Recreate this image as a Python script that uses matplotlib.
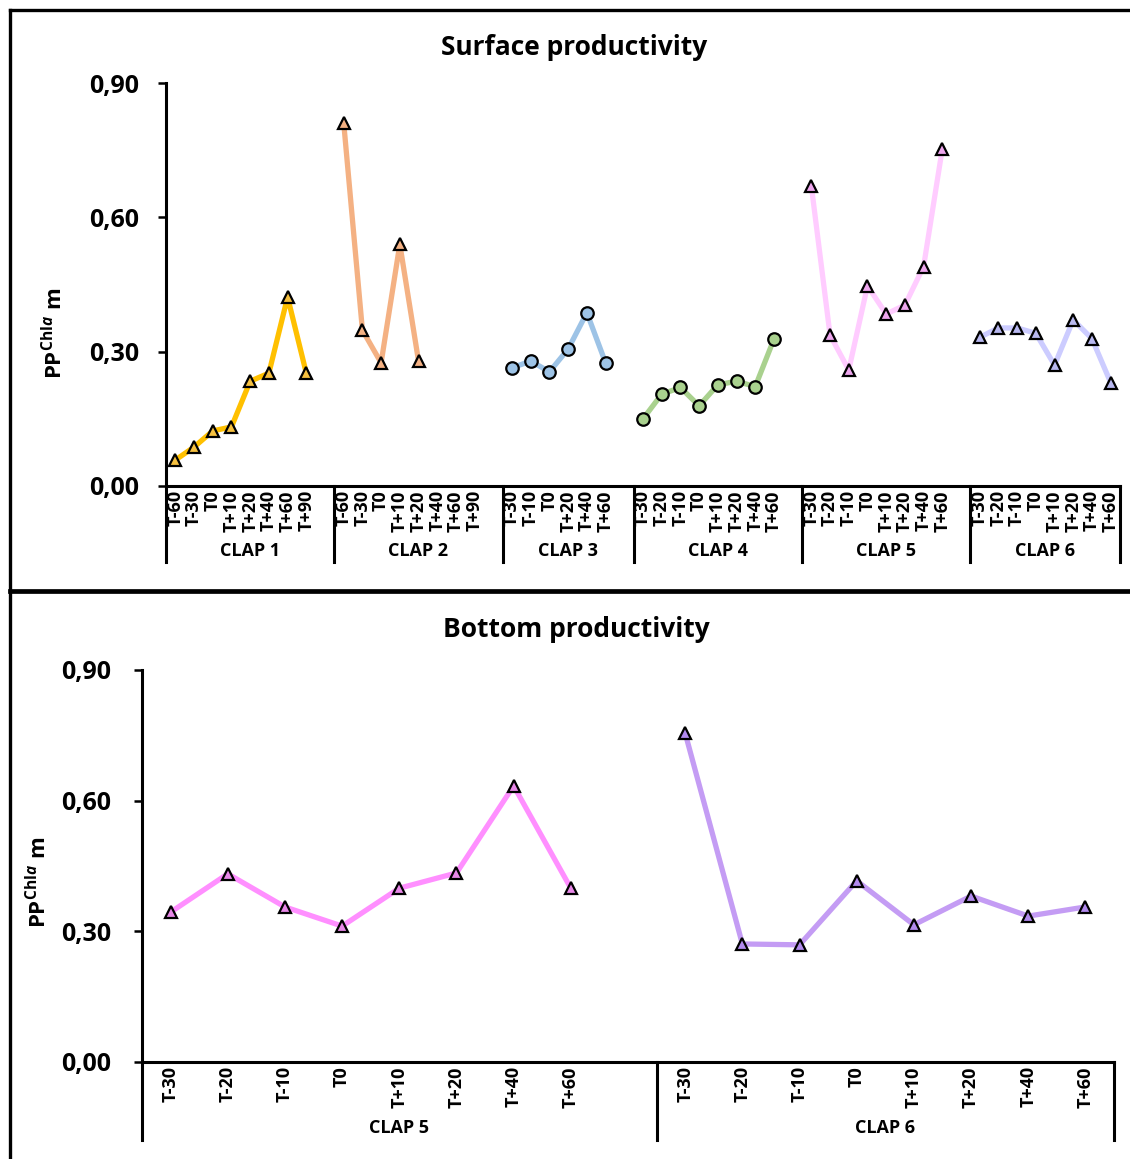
#-*- coding: utf-8 -*-
import matplotlib.pyplot as plt
import numpy as np
from matplotlib.lines import Line2D

plt.rcParams['font.family'] = ['Open Sans', 'DejaVu Sans']
plt.rcParams['mathtext.fontset'] = 'custom'
plt.rcParams['mathtext.rm'] = 'Open Sans:bold'
plt.rcParams['mathtext.it'] = 'Open Sans:italic:bold'
plt.rcParams['mathtext.bf'] = 'Open Sans:bold'

W = 1130
H = 1159

# surface data
groups_top = ['CLAP 1', 'CLAP 2', 'CLAP 3', 'CLAP 4', 'CLAP 5', 'CLAP 6']
lab_a = ['T-60', 'T-30', 'T0', 'T+10', 'T+20', 'T+40', 'T+60', 'T+90']
lab_b = ['T-30', 'T-10', 'T0', 'T+20', 'T+40', 'T+60']
lab_c = ['T-30', 'T-20', 'T-10', 'T0', 'T+10', 'T+20', 'T+40', 'T+60']
labels_top = [lab_a, lab_a, lab_b, lab_c, lab_c, lab_c]

clap1_s = [0.058, 0.087, 0.123, 0.132, 0.234, 0.252, 0.422, 0.252]
clap2_s = [0.811, 0.348, 0.275, 0.540, 0.279, np.nan, np.nan, np.nan]
clap3_s = [0.264, 0.279, 0.255, 0.306, 0.387, 0.275]
clap4_s = [0.150, 0.205, 0.220, 0.179, 0.226, 0.234, 0.222, 0.328]
clap5_s = [0.670, 0.337, 0.259, 0.447, 0.384, 0.404, 0.490, 0.753]
clap6_s = [0.332, 0.353, 0.353, 0.341, 0.270, 0.371, 0.329, 0.231]
values_top = [clap1_s, clap2_s, clap3_s, clap4_s, clap5_s, clap6_s]

line_top = ['#FFC000', '#F4B183', '#9DC3E6', '#A9D18E', '#FFCCFF', '#CCCCFF']
mark_top = ['#F5C040', '#F4B183', '#9DC3E6', '#A9D18E', '#EEA6EE', '#B8B8F0']
shape_top = ['^', '^', 'o', 'o', '^', '^']

# bottom data
groups_bot = ['CLAP 5', 'CLAP 6']
labels_bot = [lab_c, lab_c]
clap5_b = [0.344, 0.432, 0.356, 0.312, 0.399, 0.434, 0.634, 0.399]
clap6_b = [0.755, 0.271, 0.269, 0.416, 0.315, 0.381, 0.335, 0.356]
values_bot = [clap5_b, clap6_b]
line_bot = ['#FF8FFF', '#C49CF4']
mark_bot = ['#E888E8', '#B28AEE']


def fig_rect(l, t, r, b):
    return [l / W, 1 - b / H, (r - l) / W, (b - t) / H]


def draw_panel(ax, groups, labels, values, lcol, mcol, shapes, title, tpos,
               div_y, grp_y, ylab_xy, ylpad):
    ticks = []
    ticklabels = []
    bounds = [-0.5]
    start = 0
    for g in range(len(groups)):
        n = len(labels[g])
        x = np.arange(start, start + n)
        ax.plot(x, values[g], color=lcol[g], lw=3.8, solid_capstyle='round',
                zorder=2)
        ax.plot(x, values[g], ls='none', marker=shapes[g],
                ms=9 if shapes[g] == 'o' else 8.5, mfc=mcol[g], mec='k',
                mew=1.6, zorder=3)
        ticks += list(x)
        ticklabels += labels[g]
        # one empty slot after each group except the last
        if g < len(groups) - 1:
            start += n + 1
        else:
            start += n
        bounds.append(start - 0.5)
    ax.set_xlim(-0.5, start - 0.5)
    ax.set_ylim(0, 0.9)
    ax.set_yticks([0, 0.3, 0.6, 0.9])
    ax.set_yticklabels(['0,00', '0,30', '0,60', '0,90'])
    ax.set_xticks(ticks)
    ax.set_xticklabels(ticklabels, rotation=90, fontsize=13,
                       fontweight='bold')
    ax.tick_params(axis='x', length=0, pad=3)
    ax.tick_params(axis='y', length=6, width=1.8, direction='out',
                   labelsize=18, pad=ylpad)
    for lab in ax.get_yticklabels():
        lab.set_fontweight('bold')
    for s in ['top', 'right']:
        ax.spines[s].set_visible(False)
    for s in ['left', 'bottom']:
        ax.spines[s].set_linewidth(2.2)
    trans = ax.get_xaxis_transform()
    for b in bounds:
        ax.plot([b, b], [0, div_y], color='k', lw=2.2, transform=trans,
                clip_on=False)
    for g in range(len(groups)):
        ax.text((bounds[g] + bounds[g + 1]) / 2.0, grp_y, groups[g],
                transform=trans, ha='center', va='center', fontsize=13,
                fontweight='bold')
    ax.set_ylabel(r'$\mathrm{PP}^{\mathrm{Chl}\mathit{a}}\ \mathrm{m}$',
                  fontsize=16)
    ax.yaxis.set_label_coords(ylab_xy[0], ylab_xy[1])
    ax.set_title(title, fontsize=19, fontweight='bold', x=tpos[0], y=tpos[1])


def main():
    fig = plt.figure(figsize=(W / 100.0, H / 100.0), dpi=100)

    ax1 = fig.add_axes(fig_rect(166, 83, 1120, 486))
    draw_panel(ax1, groups_top, labels_top, values_top, line_top, mark_top,
               shape_top, 'Surface productivity', (0.428, 1.0 + 20 / 403.0),
               -76 / 403.0, -65 / 403.0, (-0.104, 0.38), 13)

    ax2 = fig.add_axes(fig_rect(142, 670, 1114, 1062))
    draw_panel(ax2, groups_bot, labels_bot, values_bot, line_bot, mark_bot,
               ['^', '^'], 'Bottom productivity', (0.447, 1.0 + 25 / 392.0),
               -78 / 392.0, -66 / 392.0, (-0.093, 0.46), 16)

    # panel frames
    fig.add_artist(Line2D([10 / W, 10 / W], [0, 1 - 10 / H], color='k', lw=2.4))
    fig.add_artist(Line2D([10 / W, 1], [1 - 10 / H, 1 - 10 / H], color='k', lw=2.4))
    fig.add_artist(Line2D([10 / W, 1], [1 - 591 / H, 1 - 591 / H], color='k', lw=3.4))

    plt.savefig('out.png', dpi=100)


if __name__ == '__main__':
    main()
